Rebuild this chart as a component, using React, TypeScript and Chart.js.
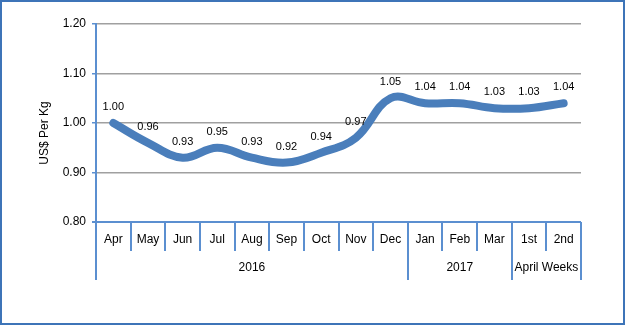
import React, { useEffect, useRef } from "react";
import { Chart, registerables } from "chart.js";

Chart.register(...registerables);

const categories = ["Apr", "May", "Jun", "Jul", "Aug", "Sep", "Oct", "Nov", "Dec", "Jan", "Feb", "Mar", "1st", "2nd"];
const prices = [1.0, 0.96, 0.93, 0.95, 0.93, 0.92, 0.94, 0.97, 1.05, 1.04, 1.04, 1.03, 1.03, 1.04];
const groups = ["2016", "2017", "April Weeks"];
const groupSpans = [9, 3, 2];
const yTicks = [0.8, 0.9, 1.0, 1.1, 1.2];

const FONT = "'Liberation Sans', Arial, sans-serif";
const AXIS_BLUE = "#5b8fd0";

const decorPlugin = {
  id: "decor",
  beforeDraw(chart: any) {
    const ctx = chart.ctx;
    ctx.save();
    ctx.fillStyle = "#ffffff";
    ctx.fillRect(0, 0, chart.width, chart.height);
    ctx.strokeStyle = "#3d74b8";
    ctx.lineWidth = 2;
    ctx.strokeRect(1, 1, chart.width - 2, chart.height - 2);
    ctx.restore();
  },
  afterDraw(chart: any) {
    const ctx = chart.ctx;
    const area = chart.chartArea;
    const x = chart.scales.x;
    const n = categories.length;
    const w = (area.right - area.left) / n;
    const bottom = area.bottom;
    ctx.save();
    ctx.strokeStyle = AXIS_BLUE;
    ctx.lineWidth = 2;
    ctx.beginPath();
    ctx.moveTo(area.left - 4, bottom);
    ctx.lineTo(area.right, bottom);
    ctx.stroke();
    const groupStarts = new Set<number>();
    let acc = 0;
    groupSpans.forEach((s) => {
      groupStarts.add(acc);
      acc += s;
    });
    groupStarts.add(n);
    for (let i = 0; i <= n; i++) {
      const px = Math.round(area.left + i * w);
      const long = groupStarts.has(i);
      ctx.beginPath();
      ctx.moveTo(px, bottom);
      ctx.lineTo(px, bottom + (long ? 58 : 29));
      ctx.stroke();
    }
    ctx.fillStyle = "#000";
    ctx.font = `12px ${FONT}`;
    ctx.textAlign = "center";
    ctx.textBaseline = "middle";
    categories.forEach((c, i) => {
      ctx.fillText(c, x.getPixelForValue(i), bottom + 18);
    });
    acc = 0;
    groups.forEach((g, gi) => {
      const start = area.left + acc * w;
      const end = area.left + (acc + groupSpans[gi]) * w;
      ctx.fillText(g, (start + end) / 2, bottom + 46);
      acc += groupSpans[gi];
    });
    ctx.save();
    ctx.translate(45, 133);
    ctx.rotate(-Math.PI / 2);
    ctx.fillText("US$ Per Kg", 0, 0);
    ctx.restore();
    const meta = chart.getDatasetMeta(0);
    ctx.font = `11px ${FONT}`;
    meta.data.forEach((pt: any, i: number) => {
      ctx.fillText(prices[i].toFixed(2), pt.x, pt.y - 16);
    });
    ctx.restore();
  },
};

export default function App() {
  const ref = useRef<HTMLCanvasElement>(null);
  useEffect(() => {
    if (!ref.current) return;
    const chart = new Chart(ref.current, {
      type: "line",
      data: {
        labels: categories,
        datasets: [
          {
            data: prices,
            borderColor: "#4a7ebb",
            borderWidth: 8,
            tension: 0.4,
            pointRadius: 0,
            fill: false,
            borderCapStyle: "round",
          },
        ],
      },
      options: {
        responsive: false,
        animation: false,
        layout: { padding: { left: 0, right: 44, top: 24, bottom: 103 } },
        plugins: { legend: { display: false }, tooltip: { enabled: false } },
        scales: {
          x: { display: false, offset: true },
          y: {
            min: 0.8,
            max: 1.2,
            afterFit(scale: any) {
              scale.width = 96;
            },
            afterBuildTicks(scale: any) {
              scale.ticks = yTicks.map((v) => ({ value: v }));
            },
            ticks: {
              color: "#000",
              font: { family: FONT, size: 12 },
              padding: 6,
              callback: (v: any) => Number(v).toFixed(2),
            },
            grid: { color: "#a0a0a0", lineWidth: 1.5, tickColor: AXIS_BLUE, tickLength: 4 },
            border: { color: AXIS_BLUE, width: 2 },
          },
        },
      },
      plugins: [decorPlugin],
    });
    return () => chart.destroy();
  }, []);
  return (
    <div style={{ position: "absolute", left: 0, top: 0, width: 625, height: 325 }}>
      <canvas ref={ref} width={625} height={325} />
    </div>
  );
}
